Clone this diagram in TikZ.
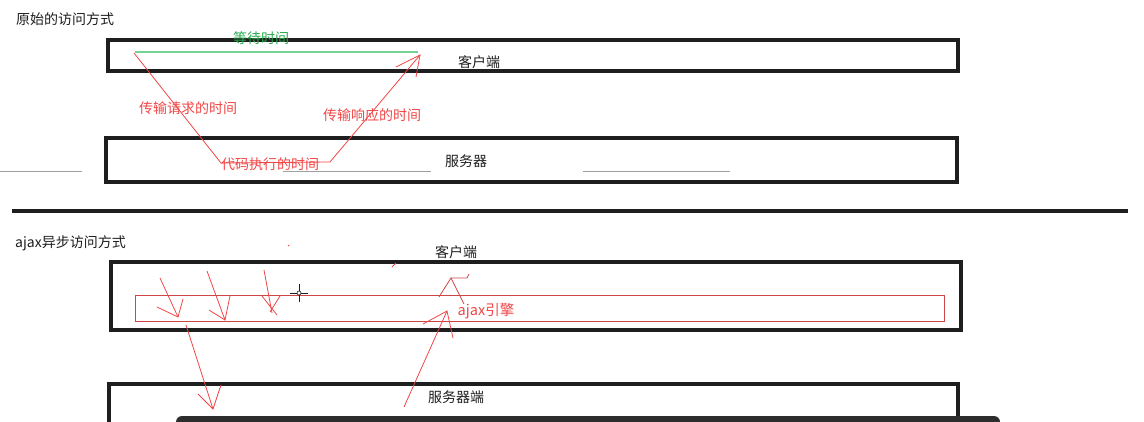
\documentclass[tikz,border=0pt]{standalone}
\usepackage{fontspec}
\setmainfont{Noto Sans CJK SC}
\usepackage{tikz}

\definecolor{ink}{RGB}{30,30,30}
\definecolor{penred}{RGB}{240,70,70}
\definecolor{enginered}{RGB}{205,70,70}
\definecolor{waitgreen}{RGB}{120,210,150}
\definecolor{greentext}{RGB}{40,170,80}
\definecolor{barbg}{RGB}{45,45,45}

\begin{document}
\begin{tikzpicture}[x=1pt,y=-1pt,
	txt/.style={inner sep=0pt,text=ink,font=\fontsize{14}{16}\selectfont},
	redtxt/.style={txt,text=penred},
	box/.style={draw=ink,line width=4pt,inner sep=0pt},
	pen/.style={draw=penred,line width=0.8pt},
	gline/.style={draw=gray!75,line width=1pt}]

	\useasboundingbox (0,0) rectangle (1144,421);
	\clip (0,0) rectangle (1144,421);

	% original way
	\node[txt,anchor=west] (title1) at (16,19) {原始的访问方式};

	\node[box,minimum width=850pt,minimum height=31pt] (client1) at (533,55.5) {};
	\node[txt] (client1 label) at (479,62) {客户端};

	\node[box,minimum width=851pt,minimum height=44pt] (server1) at (531.5,160) {};
	\node[txt] (server1 label) at (466,161) {服务器};

	\coordinate (g1a) at (0,171);     \coordinate (g1b) at (82,171);
	\coordinate (g2a) at (283,171);   \coordinate (g2b) at (431,171);
	\coordinate (g3a) at (583,171);   \coordinate (g3b) at (730,171);
	\path[gline] (g1a) edge (g1b) (g2a) edge (g2b) (g3a) edge (g3b);

	\coordinate (wait start) at (135,52);
	\coordinate (wait end) at (418,52);
	\draw[draw=waitgreen,line width=1.3pt] (wait start) -- (wait end);
	\node[txt,text=greentext] (wait label) at (261,38) {等待时间};

	\coordinate (req start) at (134,53);
	\coordinate (req end) at (221,163);
	\coordinate (exec end) at (330,162);
	\coordinate (resp tip) at (420,55);
	\coordinate (resp barb a) at (396,67);
	\coordinate (resp barb b) at (416,77);
	\draw[pen] (req start) -- (req end) -- (exec end) -- (resp tip);
	\draw[pen] (resp barb a) -- (resp tip) -- (resp barb b);

	\node[redtxt] (req label) at (188,108) {传输请求的时间};
	\node[redtxt] (resp label) at (372,115) {传输响应的时间};
	\node[redtxt] (exec label) at (270,164) {代码执行的时间};

	\coordinate (split a) at (12,211);
	\coordinate (split b) at (1128,211);
	\draw[draw=ink,line width=3.5pt] (split a) -- (split b);

	% ajax way
	\node[txt,anchor=west] (title2) at (15,243) {ajax异步访问方式};
	\node[txt] (client2 label) at (456,252) {客户端};

	\node[box,minimum width=850pt,minimum height=68pt] (client2) at (536,296) {};
	\node[draw=enginered,line width=1pt,inner sep=0pt,minimum width=809pt,minimum height=26pt] (engine) at (539.5,308) {};
	\node[redtxt,font=\fontsize{14.5}{16}\selectfont] (engine label) at (486,311) {ajax引擎};

	\node[box,minimum width=849pt,minimum height=56pt] (server2) at (533.5,412) {};
	\node[txt] (server2 label) at (456,397) {服务器端};

	\coordinate (a1 start) at (160,278);  \coordinate (a1 tip) at (178,317);
	\coordinate (a1 l) at (157,307);      \coordinate (a1 r) at (183,299);
	\draw[pen] (a1 start) -- (a1 tip);
	\draw[pen] (a1 l) -- (a1 tip) -- (a1 r);

	\coordinate (a2 start) at (207,271);  \coordinate (a2 tip) at (225,320);
	\coordinate (a2 l) at (209,310);      \coordinate (a2 r) at (230,296);
	\draw[pen] (a2 start) -- (a2 tip);
	\draw[pen] (a2 l) -- (a2 tip) -- (a2 r);

	\coordinate (a3 start) at (264,270);  \coordinate (a3 tip) at (272,313);
	\coordinate (a3 l) at (262,296);      \coordinate (a3 lx) at (277,315);
	\coordinate (a3 r) at (280,296);      \coordinate (a3 rx) at (270,312);
	\draw[pen] (a3 start) -- (a3 tip);
	\draw[pen] (a3 l) -- (a3 lx) (a3 r) -- (a3 rx);

	\coordinate (send start) at (186,325);
	\coordinate (send tip) at (213,409);
	\coordinate (send l) at (198,394);
	\coordinate (send r) at (221,385);
	\draw[pen] (send start) -- (send tip);
	\draw[pen] (send l) -- (send tip) -- (send r);

	\coordinate (back start) at (404,407);
	\coordinate (back tip) at (447,311);
	\coordinate (back l) at (423,324);
	\coordinate (back r) at (453,338);
	\draw[pen] (back start) -- (back tip);
	\draw[pen] (back l) -- (back tip) -- (back r);

	\coordinate (up a) at (439,297);
	\coordinate (up tip) at (451,278);
	\coordinate (up b) at (464,304);
	\coordinate (up c) at (467,278);
	\coordinate (up d) at (469,274);
	\draw[draw=enginered,line width=0.8pt] (up a) -- (up tip) -- (up b);
	\draw[draw=enginered,line width=0.8pt] (up tip) -- (up c) -- (up d);

	\coordinate (dot a) at (392,267);  \coordinate (dot b) at (396,263);
	\draw[pen] (dot a) -- (dot b);
	\coordinate (dot c) at (288,245);  \coordinate (dot d) at (289,246);
	\draw[pen] (dot c) -- (dot d);

	% cursor
	\coordinate (cursor) at (299,293);
	\draw[draw=ink,line width=0.9pt] ([xshift=-9pt]cursor) -- ([xshift=9pt]cursor)
		([yshift=-9pt]cursor) -- ([yshift=9pt]cursor);
	\node[circle,draw=ink,fill=white,line width=0.6pt,inner sep=0pt,minimum size=4pt] (cursor dot) at (cursor) {};

	\node[fill=barbg,rounded corners=6pt,inner sep=0pt,minimum width=824pt,minimum height=16pt] (bar) at (588,424) {};

\end{tikzpicture}
\end{document}
